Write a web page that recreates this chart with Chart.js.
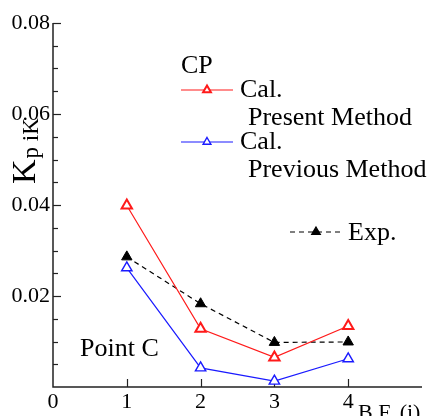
<!DOCTYPE html>
<html>
<head>
<meta charset="utf-8">
<script src="https://cdn.jsdelivr.net/npm/chart.js@4/dist/chart.umd.min.js"></script>
<style>
  html, body { margin: 0; padding: 0; background: #fff; }
  #wrap { width: 430px; height: 416px; }
</style>
</head>
<body>
<div id="wrap"><canvas id="c" width="430" height="416"></canvas></div>
<script>
// ---- data ----
const bfPositions = [1, 2, 3, 4];
const presentMethod = [0.0399, 0.0128, 0.0065, 0.0134];
const previousMethod = [0.0262, 0.0042, 0.0013, 0.0062];
const experiment = [0.0286, 0.0183, 0.0098, 0.0099];
const yMajorTicks = [0.02, 0.04, 0.06, 0.08];
const xTickLabels = ['0', '1', '2', '3', '4'];
const legendTitle = 'CP';
const seriesNames = [['Cal.', 'Present Method'], ['Cal.', 'Previous Method'], ['Exp.']];
const annotationText = 'Point C';
const xTitle = 'B.F. (i)';
const yTitleMain = 'K';
const yTitleSub = 'p iK';

const SERIF = "'Liberation Serif', 'Times New Roman', serif";
Chart.defaults.font.family = SERIF;
Chart.defaults.color = '#000';

function pts(arr) { return bfPositions.map((x, i) => ({ x: x, y: arr[i] })); }

const datasets = [
  { label: 'Present', data: pts(presentMethod), borderColor: '#ff1a1a', backgroundColor: 'rgba(255,255,255,1)',
    borderWidth: 1.2, pointStyle: 'triangle', pointRadius: 6, pointBorderWidth: 2, pointBorderColor: '#ff1a1a',
    pointBackgroundColor: '#fff', tension: 0 },
  { label: 'Previous', data: pts(previousMethod), borderColor: '#1a1aff', backgroundColor: '#fff',
    borderWidth: 1.2, pointStyle: 'triangle', pointRadius: 6, pointBorderWidth: 1.4, pointBorderColor: '#1a1aff',
    pointBackgroundColor: '#fff', tension: 0 },
  { label: 'Exp', data: pts(experiment), borderColor: '#000', backgroundColor: '#000',
    borderWidth: 1.2, borderDash: [5, 4], pointStyle: 'triangle', pointRadius: 6, pointBorderWidth: 1,
    pointBorderColor: '#000', pointBackgroundColor: '#000', tension: 0 }
];

function isMajor(v) { return yMajorTicks.some(t => Math.abs(t - v) < 1e-9); }

const decorPlugin = {
  id: 'decor',
  beforeDatasetsDraw(chart) {
    const ctx = chart.ctx;
    const xs = chart.scales.x, ys = chart.scales.y;
    const left = xs.getPixelForValue(0), right = xs.getPixelForValue(5);
    const bottom = ys.getPixelForValue(0), top = ys.getPixelForValue(0.08);
    ctx.save();
    ctx.strokeStyle = '#222';
    ctx.lineWidth = 1.5;
    ctx.beginPath();
    ctx.moveTo(left, top); ctx.lineTo(left, bottom); ctx.lineTo(right, bottom);
    ctx.stroke();
    ctx.lineWidth = 1.2;
    ys.ticks.forEach(t => {
      const v = t.value;
      if (v <= 0) return;
      const py = Math.round(ys.getPixelForValue(v)) + 0.5;
      const len = isMajor(v) ? 8 : 5;
      ctx.beginPath(); ctx.moveTo(left, py); ctx.lineTo(left + len, py); ctx.stroke();
    });
    xs.ticks.forEach(t => {
      const v = t.value;
      if (v <= 0 || v >= 5) return;
      const px = Math.round(xs.getPixelForValue(v)) + 0.5;
      ctx.beginPath(); ctx.moveTo(px, bottom); ctx.lineTo(px, bottom - 8); ctx.stroke();
    });
    ctx.restore();
  },
  afterDraw(chart) {
    const ctx = chart.ctx;
    ctx.save();
    ctx.fillStyle = '#000';
    ctx.textBaseline = 'middle';
    ctx.textAlign = 'left';
    ctx.font = '26px ' + SERIF;
    ctx.fillText(legendTitle, 181, 66);
    const rows = [
      { ds: datasets[0], y: 90, text: seriesNames[0] },
      { ds: datasets[1], y: 142, text: seriesNames[1] }
    ];
    rows.forEach(r => {
      ctx.save();
      ctx.strokeStyle = r.ds.borderColor; ctx.lineWidth = 1.2; ctx.setLineDash([]);
      ctx.beginPath(); ctx.moveTo(181, r.y); ctx.lineTo(233, r.y); ctx.stroke();
      ctx.strokeStyle = r.ds.pointBorderColor; ctx.fillStyle = r.ds.pointBackgroundColor; ctx.lineWidth = r.ds.pointBorderWidth;
      Chart.helpers.drawPoint(ctx, { pointStyle: 'triangle', radius: 4.5, borderWidth: r.ds.pointBorderWidth, rotation: 0 }, 207, r.y);
      ctx.restore();
      ctx.font = '26px ' + SERIF;
      ctx.fillText(r.text[0], 240, r.y);
      ctx.fillText(r.text[1], 248, r.y + 28);
    });
    ctx.save();
    ctx.strokeStyle = '#000'; ctx.lineWidth = 1.2; ctx.setLineDash([5, 4]);
    ctx.beginPath(); ctx.moveTo(290, 232); ctx.lineTo(342, 232); ctx.stroke();
    ctx.setLineDash([]);
    ctx.fillStyle = '#000';
    Chart.helpers.drawPoint(ctx, { pointStyle: 'triangle', radius: 5, borderWidth: 1, rotation: 0 }, 316, 232);
    ctx.restore();
    ctx.font = '26px ' + SERIF;
    ctx.fillText(seriesNames[2][0], 348, 233);
    ctx.fillText(annotationText, 80, 349);
    ctx.font = '22px ' + SERIF;
    ctx.textBaseline = 'alphabetic';
    ctx.fillText(xTitle, 358, 419);
    ctx.save();
    ctx.translate(35, 184);
    ctx.rotate(-Math.PI / 2);
    ctx.font = '34px ' + SERIF;
    ctx.fillText(yTitleMain, 0, 0);
    const w = ctx.measureText(yTitleMain).width;
    ctx.font = '23px ' + SERIF;
    ctx.fillText(yTitleSub, w + 1, 3);
    ctx.restore();
    ctx.restore();
  }
};

new Chart(document.getElementById('c'), {
  type: 'line',
  data: { datasets: datasets },
  options: {
    responsive: false,
    animation: false,
    layout: { padding: { top: 23, right: 6, left: 0, bottom: 0 } },
    plugins: { legend: { display: false }, tooltip: { enabled: false } },
    scales: {
      x: {
        type: 'linear', min: 0, max: 5,
        grid: { display: false, drawTicks: false }, border: { display: false },
        ticks: {
          stepSize: 1, autoSkip: false, padding: 2, maxRotation: 0,
          font: { size: 22, family: SERIF }, color: '#000',
          callback: (v) => (v <= 4 ? xTickLabels[v] : '')
        },
        afterFit: (s) => { s.height = 29; }
      },
      y: {
        type: 'linear', min: 0, max: 0.08,
        grid: { display: false, drawTicks: false }, border: { display: false },
        ticks: {
          stepSize: 0.005, autoSkip: false, padding: 3,
          font: { size: 22, family: SERIF }, color: '#000',
          callback: (v) => (v > 0 && isMajor(v) ? v.toFixed(2) : '')
        },
        afterFit: (s) => { s.width = 53; }
      }
    }
  },
  plugins: [decorPlugin]
});
</script>
</body>
</html>
